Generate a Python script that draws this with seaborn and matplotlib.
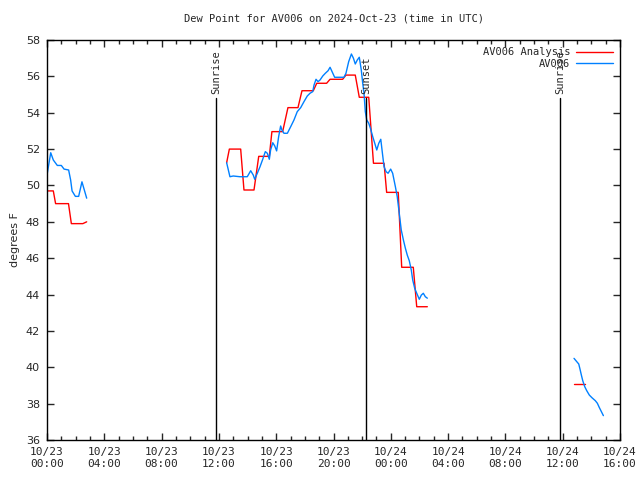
import numpy as np
import pandas as pd
import matplotlib
matplotlib.use("Agg")
import matplotlib.pyplot as plt
import seaborn as sns
from matplotlib.lines import Line2D

# ---- data (hours since 2024-10-23 00:00 UTC) ----
obs_seg = [0]*13 + [1]*85 + [2]*15
obs_hours = [0.0, 0.26, 0.44, 0.72, 1.0, 1.19, 1.51, 1.65, 1.75, 1.98, 2.21, 2.44, 2.77,
             12.54, 12.77, 13.0, 13.47, 13.98, 14.22, 14.4, 14.5, 14.68, 14.87, 15.06, 15.24,
             15.38, 15.52, 15.61, 15.76, 15.9, 16.03, 16.17, 16.31, 16.4, 16.54, 16.78, 17.01,
             17.24, 17.47, 17.71, 17.94, 18.17, 18.36, 18.55, 18.64, 18.78, 18.92, 19.06, 19.25,
             19.43, 19.62, 19.76, 19.9, 20.08, 20.36, 20.73, 20.87, 21.06, 21.25, 21.39, 21.52,
             21.66, 21.8, 21.94, 22.04, 22.13, 22.22, 22.32, 22.46, 22.6, 22.74, 22.88, 23.02,
             23.16, 23.3, 23.43, 23.53, 23.67, 23.81, 23.99, 24.13, 24.32, 24.45, 24.59, 24.73,
             24.88, 25.02, 25.15, 25.29, 25.43, 25.53, 25.67, 25.81, 25.99, 26.13, 26.27, 26.41,
             26.55,
             36.79, 36.98, 37.12, 37.21, 37.3, 37.4, 37.54, 37.68, 37.86, 38.05, 38.28, 38.42,
             38.56, 38.7, 38.84]
obs_values = [50.57, 51.8, 51.4, 51.1, 51.1, 50.9, 50.85, 50.3, 49.7, 49.4, 49.4, 50.2, 49.3,
              51.25, 50.48, 50.52, 50.48, 50.48, 50.81, 50.57, 50.34, 50.67, 51.03, 51.44, 51.86,
              51.77, 51.44, 51.95, 52.35, 52.17, 51.9, 52.68, 53.27, 53.05, 52.87, 52.87, 53.23,
              53.6, 54.06, 54.28, 54.61, 54.92, 55.07, 55.16, 55.52, 55.84, 55.71, 55.8, 56.02,
              56.17, 56.31, 56.5, 56.26, 55.95, 55.95, 55.95, 56.17, 56.81, 57.23, 57.0, 56.68,
              56.9, 57.05, 56.35, 55.62, 55.07, 54.06, 53.6, 53.42, 53.09, 52.68, 52.32, 51.95,
              52.32, 52.54, 51.67, 51.03, 50.76, 50.67, 50.9, 50.67, 49.93, 49.38, 48.47, 47.55,
              47.0, 46.54, 46.17, 45.86, 45.35, 44.8, 44.34, 44.07, 43.74, 43.97, 44.07, 43.88,
              43.8,
              40.49, 40.31, 40.18, 39.89, 39.58, 39.26, 38.93, 38.71, 38.47, 38.32, 38.16, 38.02,
              37.78, 37.56, 37.34]

ana_seg = [0]*8 + [1]*30 + [2]*2
ana_hours = [0.0, 0.44, 0.6, 1.5, 1.7, 2.5, 2.77, 2.77,
             12.54, 12.73, 13.52, 13.75, 14.45, 14.78, 15.52, 15.7, 16.45, 16.82, 17.52, 17.8,
             18.59, 18.83, 19.52, 19.76, 20.64, 20.87, 21.52, 21.8, 22.46, 22.79, 23.53, 23.71,
             24.52, 24.76, 25.57, 25.81, 26.55, 26.55,
             36.79, 37.58]
ana_values = [49.7, 49.7, 49.0, 49.0, 47.9, 47.9, 48.0, 48.0,
              51.25, 52.0, 52.0, 49.75, 49.75, 51.6, 51.6, 52.96, 52.96, 54.28, 54.28, 55.21,
              55.21, 55.62, 55.62, 55.84, 55.84, 56.07, 56.07, 54.85, 54.85, 51.22, 51.22, 49.62,
              49.62, 45.5, 45.5, 43.33, 43.33, 43.33,
              39.09, 39.09]

sun_hours = [11.8, 22.27, 35.81]
sun_labels = ["Sunrise", "Sunset", "Sunrise"]

xtick_hours = [0, 4, 8, 12, 16, 20, 24, 28, 32, 36, 40]
xtick_labels = ["10/23\n00:00", "10/23\n04:00", "10/23\n08:00", "10/23\n12:00",
                "10/23\n16:00", "10/23\n20:00", "10/24\n00:00", "10/24\n04:00",
                "10/24\n08:00", "10/24\n12:00", "10/24\n16:00"]

sns.set_style("white")
plt.rcParams["font.family"] = ["DejaVu Sans Mono", "DejaVu Sans"]

fig = plt.figure(figsize=(6.4, 4.8), dpi=100)
ax = fig.add_axes([47/640, 40/480, 573/640, 400/480])

obs_df = pd.DataFrame({"h": obs_hours, "v": obs_values, "seg": obs_seg})
ana_df = pd.DataFrame({"h": ana_hours, "v": ana_values, "seg": ana_seg})

sns.lineplot(data=ana_df, x="h", y="v", units="seg", estimator=None, sort=False,
             color="#ff0000", lw=1.0, ax=ax, legend=False)
sns.lineplot(data=obs_df, x="h", y="v", units="seg", estimator=None, sort=False,
             color="#0080ff", lw=1.0, ax=ax, legend=False)

for h, lab in zip(sun_hours, sun_labels):
    ax.plot([h, h], [36, 54.8], color="black", lw=1.0)
    ax.text(h, 55.05, lab, rotation=90, ha="center", va="bottom", fontsize=7.5)

ax.set_xlim(0, 40)
ax.set_ylim(36, 58)
ax.set_xticks(xtick_hours)
ax.set_xticklabels(xtick_labels, fontsize=8)
ax.set_xticks(np.arange(0, 41, 1), minor=True)
ax.set_yticks(np.arange(36, 59, 2))
ax.set_yticklabels([str(v) for v in range(36, 59, 2)], fontsize=8, family="DejaVu Sans")
ax.tick_params(axis="both", which="major", direction="in", length=5, width=1,
               top=True, right=True, bottom=True, left=True, pad=5)
ax.tick_params(axis="x", which="minor", direction="in", length=3, width=1,
               top=True, bottom=True)
for s in ax.spines.values():
    s.set_color("black")
    s.set_linewidth(1.0)

ax.set_xlabel("")
ax.set_ylabel("degrees F", fontsize=8, family="DejaVu Sans")
ax.set_title("Dew Point for AV006 on 2024-Oct-23 (time in UTC)", fontsize=7.5, pad=13)

handles = [Line2D([], [], color="#ff0000", lw=1.0), Line2D([], [], color="#0080ff", lw=1.0)]
ax.legend(handles, ["AV006 Analysis", "AV006"], loc="upper right", frameon=False,
          markerfirst=False, fontsize=7.5, handlelength=3.5, borderaxespad=0.3,
          labelspacing=0.15, handletextpad=0.6)

fig.savefig("out.png", dpi=100)
